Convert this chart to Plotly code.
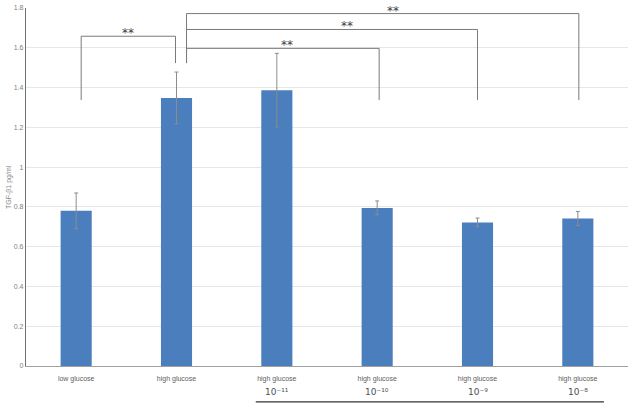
import plotly.graph_objects as go

categories = ["low glucose", "high glucose", "high glucose 10-11", "high glucose 10-10",
              "high glucose 10-9", "high glucose 10-8"]
tick_line1 = ["low glucose", "high glucose", "high glucose", "high glucose", "high glucose", "high glucose"]
tick_line2 = ["", "", "10⁻¹¹", "10⁻¹⁰", "10⁻⁹", "10⁻⁸"]
values = [0.78, 1.348, 1.387, 0.795, 0.722, 0.742]
errors = [0.09, 0.13, 0.185, 0.035, 0.022, 0.035]
y_ticks = [0, 0.2, 0.4, 0.6, 0.8, 1.0, 1.2, 1.4, 1.6, 1.8]
y_tick_text = ["0", "0.2", "0.4", "0.6", "0.8", "1", "1.2", "1.4", "1.6", "1.8"]

# significance brackets: (x_left, x_right, y_top, y_left_bottom, y_right_bottom, star_x, label)
brackets = [
    (0.05, 0.99, 1.658, 1.337, 1.523, 0.52, "**"),
    (1.1, 3.02, 1.597, 1.523, 1.337, 2.1, "**"),
    (1.1, 4.0, 1.692, 1.523, 1.337, 2.7, "**"),
    (1.1, 5.01, 1.772, 1.523, 1.337, 3.16, "**"),
]

fig = go.Figure()
fig.add_trace(go.Bar(
    x=categories, y=values,
    marker=dict(color="#4a7ebd", line=dict(width=0)),
    error_y=dict(type="data", array=errors, color="#8c8c8c", thickness=1, width=2),
    width=0.31,
))

shapes = []
annotations = []
for xl, xr, yt, ylb, yrb, sx, lab in brackets:
    shapes.append(dict(type="path", xref="x", yref="y",
                       path=f"M {xl} {ylb} L {xl} {yt} L {xr} {yt} L {xr} {yrb}",
                       line=dict(color="#7a7a7a", width=1)))
    annotations.append(dict(x=sx, y=yt, xref="x", yref="y", text=lab, showarrow=False,
                            yanchor="middle", yshift=3,
                            font=dict(size=12, color="#404040", family="DejaVu Sans")))

for cat, t2 in zip(categories, tick_line2):
    if t2:
        annotations.append(dict(x=cat, y=0, xref="x", yref="paper", text=t2, showarrow=False,
                                yanchor="middle", yshift=-26,
                                font=dict(size=9, color="#505050", family="DejaVu Sans")))

# underline below the treated groups
shapes.append(dict(type="line", xref="x", yref="paper", x0=1.79, x1=5.26, y0=-0.1, y1=-0.1,
                   line=dict(color="#333333", width=1.2)))

annotations.append(dict(x=0, y=0.5, xref="paper", yref="paper", text="TGF-β1 pg/ml",
                        textangle=-90, showarrow=False, xshift=-23,
                        font=dict(size=7, color="#8a8a8a")))

fig.update_layout(
    width=630, height=407,
    margin=dict(l=26, r=2, t=8, b=41),
    paper_bgcolor="white", plot_bgcolor="white",
    font=dict(family="Liberation Sans, Arial, sans-serif", color="#707070"),
    showlegend=False,
    shapes=shapes, annotations=annotations,
    xaxis=dict(tickmode="array", tickvals=categories, ticktext=tick_line1,
               tickfont=dict(size=7, color="#606060"), showline=True, linecolor="#a0a0a0",
               linewidth=1, ticks="", showgrid=False, fixedrange=True, ticklabelstandoff=6),
    yaxis=dict(range=[0, 1.8], tickvals=y_ticks, ticktext=y_tick_text,
               tickfont=dict(size=7, color="#808080"), showgrid=True, gridcolor="#e6e6e6",
               gridwidth=1, showline=True, linecolor="#707070", linewidth=1.2,
               zeroline=False, ticks="", ticklen=0),
)

fig.write_html("out.html")
